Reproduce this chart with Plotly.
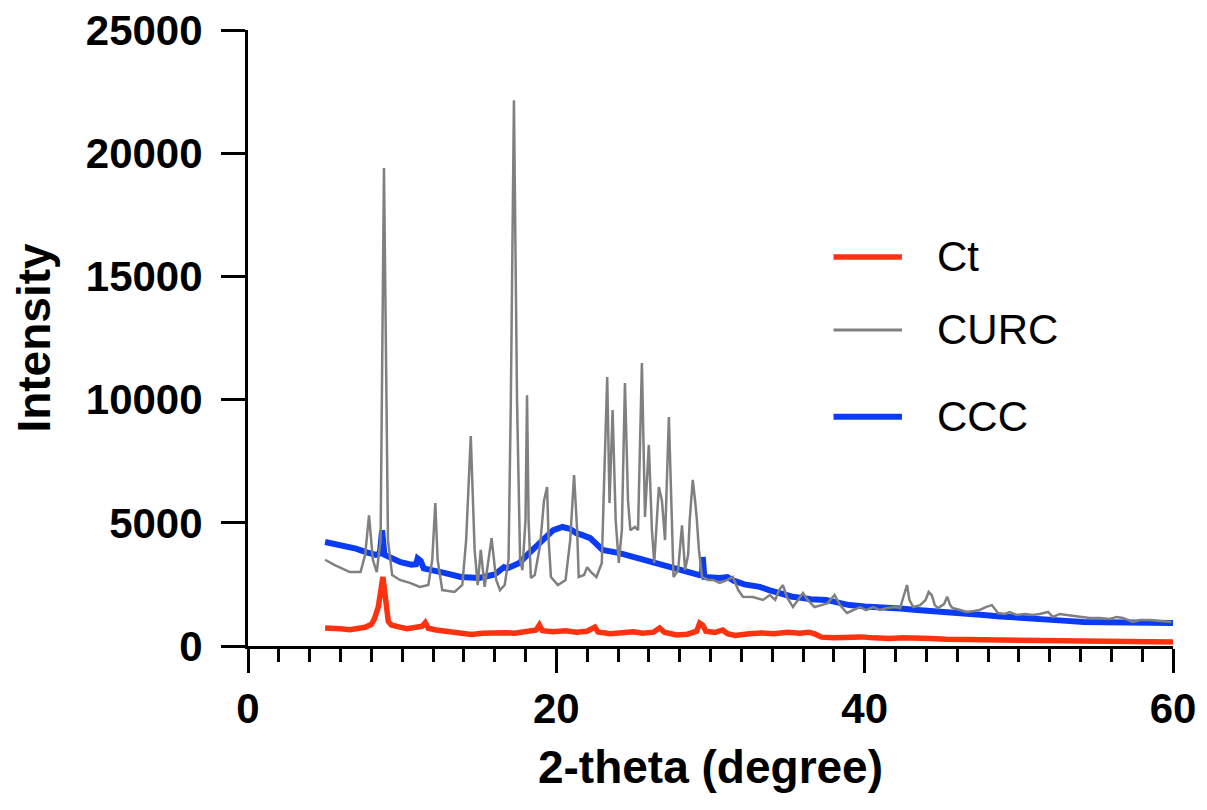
import plotly.graph_objects as go

# ---- data ----
ct_x = [5.0, 5.5, 6.0, 6.6, 7.2, 7.6, 8.0, 8.2, 8.45, 8.65, 8.75, 8.85, 8.95, 9.1, 9.3, 9.8,
        10.3, 10.9, 11.3, 11.5, 11.7, 12.2, 13.0, 13.8, 14.5, 15.2, 16.0, 16.7, 17.3, 18.2,
        18.7, 18.9, 19.1, 19.8, 20.6, 21.3, 22.0, 22.5, 22.7, 23.5, 24.3, 25.0, 25.6, 26.3,
        26.7, 27.0, 27.8, 28.5, 29.1, 29.3, 29.5, 29.7, 30.3, 30.8, 31.1, 31.6, 32.5, 33.3,
        34.1, 35.0, 35.8, 36.4, 36.8, 37.2, 38.0, 38.8, 39.8, 40.6, 41.6, 42.5, 43.4, 44.3,
        45.3, 46.5, 47.5, 48.6, 49.7, 50.8, 51.9, 53.0, 54.1, 55.2, 56.3, 57.4, 58.5, 60.0]
ct_y = [730, 690, 700, 660, 720, 760, 880, 1100, 1580, 2400, 2800, 2300, 1580, 1000, 850, 760,
        700, 760, 800, 950, 720, 650, 570, 500, 470, 520, 560, 540, 520, 600,
        650, 850, 620, 580, 620, 560, 600, 770, 570, 500, 540, 580, 520, 560,
        730, 560, 450, 480, 600, 930, 850, 600, 550, 650, 500, 430, 500, 530,
        500, 560, 520, 560, 480, 360, 330, 350, 370, 330, 300, 330, 290, 300,
        270, 260, 250, 240, 230, 210, 200, 190, 170, 175, 165, 160, 155, 160]

curc_x = [5.0, 5.6, 6.6, 7.3, 7.6, 7.85, 8.1, 8.35, 8.6, 8.82, 9.08, 9.35, 9.85, 10.5, 11.15,
          11.7, 11.95, 12.15, 12.3, 12.6, 13.4, 13.9, 14.15, 14.45, 14.7, 14.9, 15.1, 15.35,
          15.6, 15.8, 16.1, 16.35, 16.65, 16.9, 17.05, 17.25, 17.45, 17.65, 17.8, 18.0, 18.1,
          18.2, 18.35, 18.6, 18.95, 19.2, 19.4, 19.5, 19.65, 20.1, 20.6, 20.9, 21.15, 21.35,
          21.45, 21.8, 22.0, 22.25, 22.6, 22.95, 23.1, 23.3, 23.45, 23.65, 23.85, 24.05, 24.25,
          24.45, 24.65, 24.8, 25.1, 25.3, 25.55, 25.75, 26.0, 26.2, 26.35, 26.5, 26.65, 26.85,
          27.05, 27.3, 27.5, 27.6, 27.9, 28.15, 28.35, 28.55, 28.65, 28.85, 29.0, 29.1, 29.25,
          29.45, 29.85, 30.15, 30.6, 31.1, 31.45, 31.8, 32.1, 32.75, 33.4, 33.85, 34.2, 34.45,
          34.7, 34.95, 35.35, 35.7, 36.0, 36.3, 36.75, 37.2, 37.6, 38.05, 38.4, 38.85, 39.25,
          39.7, 40.1, 40.55, 41.0, 41.45, 41.95, 42.3, 42.55, 42.75, 42.9, 43.15, 43.6, 43.95,
          44.15, 44.35, 44.55, 44.75, 45.15, 45.35, 45.55, 45.7, 46.2, 46.6, 47.1, 47.45, 47.85,
          48.25, 48.65, 49.1, 49.4, 49.85, 50.4, 50.9, 51.35, 51.9, 52.2, 52.65, 53.1, 53.65,
          54.15, 54.6, 55.25, 55.9, 56.35, 56.75, 57.4, 57.85, 58.5, 59.15, 59.9]
curc_y = [3500, 3290, 3000, 3000, 3700, 5300, 3500, 3000, 4300, 19400, 4300, 2880, 2680, 2560, 2400,
          2475, 3500, 5800, 3500, 2270, 2190, 2475, 4300, 8520, 3900, 2475, 3900, 2400,
          3500, 4380, 2680, 2270, 2475, 3500, 10000, 22150, 10000, 3500, 3080, 5100, 10180,
          5100, 2760, 2880, 4100, 5900, 6450, 4300, 2800, 2475, 2680, 4300, 6940, 4700,
          2800, 2880, 3200, 3000, 2800, 3370, 6700, 10920, 5800, 9580, 5100, 3370, 4700,
          10670, 5900, 4700, 4830, 4700, 11480, 5240, 8160, 4700, 3370, 4700, 6450, 5900,
          4300, 9290, 4300, 2800, 3080, 4900, 3080, 3700, 5100, 6740, 5900, 5240, 3900,
          2800, 2680, 2680, 2560, 2680, 2800, 2270, 2000, 1990, 1870, 2070, 1870, 2270,
          2475, 1990, 1580, 1870, 2150, 1870, 1580, 1660, 1740, 2070, 1660, 1340, 1460,
          1580, 1460, 1580, 1460, 1540, 1580, 1540, 2070, 2475, 1870, 1580, 1660, 1870,
          2190, 2070, 1660, 1540, 1700, 2000, 1660, 1540, 1460, 1380, 1420, 1460, 1580,
          1660, 1340, 1300, 1380, 1260, 1300, 1260, 1300, 1380, 1180, 1300, 1260, 1220,
          1180, 1140, 1140, 1100, 1180, 1140, 975, 1055, 1055, 1010, 975]

ccc_x = [5.0, 5.5, 6.1, 7.0, 7.7, 8.3, 8.55, 8.7, 8.85, 9.2, 9.9, 10.6, 10.9, 11.0, 11.2, 11.4,
         11.8, 12.8, 13.8, 15.0, 16.0, 16.3, 16.6, 16.8, 17.3, 17.6, 18.2, 18.9, 19.8, 20.4,
         20.9, 21.3, 21.6, 21.7, 22.2, 22.5, 23.0, 24.1, 25.0, 25.9, 27.2, 28.5, 29.3, 29.45,
         29.5, 29.6, 30.2, 30.6, 31.1, 31.5, 32.2, 32.7, 33.2, 33.8, 34.5, 35.3, 36.0, 36.5,
         37.5, 38.3, 39.0, 40.0, 41.2, 42.3, 43.4, 44.4, 45.5, 46.6, 47.7, 48.8, 49.9, 51.0,
         52.0, 53.1, 54.2, 55.3, 56.4, 57.5, 58.6, 60.0]
ccc_y = [4220, 4150, 4100, 3950, 3800, 3700, 3750, 4700, 3700, 3600, 3400, 3300, 3320, 3550, 3450, 3150,
         3080, 2960, 2800, 2760, 2900, 3080, 3200, 3150, 3250, 3370, 3750, 4180, 4700, 4830,
         4750, 4580, 4550, 4500, 4380, 4200, 3900, 3770, 3610, 3490, 3200, 3000, 2880, 2900,
         3610, 2800, 2770, 2760, 2800, 2650, 2500, 2475, 2400, 2270, 2150, 2000, 1950, 1900,
         1870, 1750, 1660, 1600, 1580, 1520, 1460, 1400, 1340, 1300, 1260, 1200, 1140, 1100,
         1055, 1020, 975, 960, 960, 940, 930, 930]

series_names = ["Ct", "CURC", "CCC"]
series_colors = ["#FF3210", "#808080", "#0A3CF5"]
series_widths = [5.5, 2.5, 6]

x_ticks = [0, 20, 40, 60]
y_ticks = [0, 5000, 10000, 15000, 20000, 25000]

FONT = "Liberation Sans, Arial, sans-serif"

fig = go.Figure()
# draw order: Ct, CCC, CURC (grey drawn above the blue band)
data = {"Ct": (ct_x, ct_y), "CURC": (curc_x, curc_y), "CCC": (ccc_x, ccc_y)}
for name in ["Ct", "CCC", "CURC"]:
    i = series_names.index(name)
    xs, ys = data[name]
    fig.add_trace(go.Scatter(x=xs, y=ys, mode="lines", name=name,
                             line=dict(color=series_colors[i], width=series_widths[i]),
                             showlegend=False))

# manual legend (long sample lines like the reference)
leg_y = [0.6315, 0.513, 0.372]
for i, name in enumerate(series_names):
    fig.add_shape(type="line", xref="paper", yref="paper", x0=0.633, x1=0.707,
                  y0=leg_y[i], y1=leg_y[i],
                  line=dict(color=series_colors[i], width=max(series_widths[i], 3)))
    fig.add_annotation(xref="paper", yref="paper", x=0.743, y=leg_y[i], text=name,
                       showarrow=False, xanchor="left", yanchor="middle",
                       font=dict(family=FONT, size=42, color="black"))

# margins compensate for the 8px page body margin
fig.update_layout(
    width=1207, height=810,
    margin=dict(l=240, r=42, t=22, b=172),
    paper_bgcolor="white", plot_bgcolor="white",
    font=dict(family=FONT, color="black"),
)
fig.update_xaxes(
    range=[0, 60], tickvals=x_ticks, ticktext=[str(v) for v in x_ticks],
    automargin=False, ticklabeloverflow="allow",
    showline=True, linecolor="black", linewidth=3, showgrid=False, zeroline=False,
    ticks="outside", ticklen=24, tickwidth=3, tickcolor="black",
    minor=dict(dtick=2, ticks="outside", ticklen=13, tickwidth=3, tickcolor="black", showgrid=False),
    tickfont=dict(family=FONT, size=42, color="black", weight="bold"),
    title=dict(text="<b>2-theta (degree)</b>", font=dict(family=FONT, size=46, color="black"), standoff=20),
)
fig.update_yaxes(
    range=[0, 25000], tickvals=y_ticks, ticktext=[str(v) for v in y_ticks],
    automargin=False, ticklabeloverflow="allow",
    showline=True, linecolor="black", linewidth=3, showgrid=False, zeroline=False,
    ticks="outside", ticklen=24, tickwidth=3, tickcolor="black",
    tickfont=dict(family=FONT, size=42, color="black", weight="bold"),
    ticklabelstandoff=10,
    title=dict(text="<b>Intensity</b>", font=dict(family=FONT, size=46, color="black"), standoff=26),
)

fig.write_html("out.html")
